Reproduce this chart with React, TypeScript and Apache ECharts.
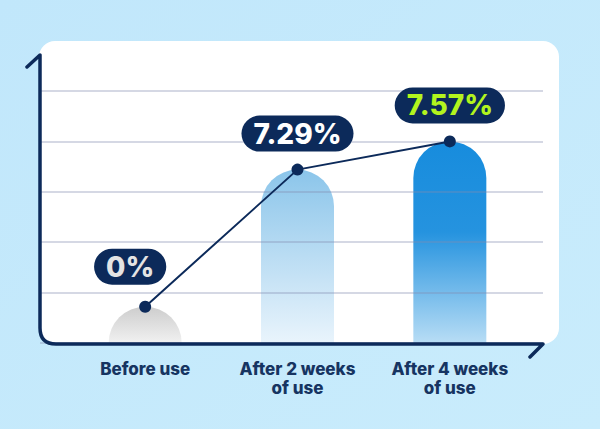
import React, { useEffect, useRef } from "react";
import * as echarts from "echarts";

const categories = ["Before use", "After 2 weeks\nof use", "After 4 weeks\nof use"];
// visual bar heights (grid units)
const barHeights = [0.72, 3.44, 4.0];
// percentages shown in the pills
const percentLabels = [0, 7.29, 7.57];
const gridTicks = [0, 1, 2, 3, 4, 5];

const NAVY = "#0c2a5a";
const FONT = "Inter, 'Noto Sans', sans-serif";

const barGradients = [
  ["#cdcdcd", "#f1f1f1"],
  ["#8bc5ea", "#e9f4fc"],
  ["#178cdd", "#b8ddf5"],
];
const labelColors = ["#e4e4e4", "#ffffff", "#b2f41e"];

export default function App() {
  const ref = useRef<HTMLDivElement>(null);
  useEffect(() => {
    if (!ref.current) return;
    echarts.graphic.registerShape(
      "axisL",
      echarts.graphic.extendPath(
        "M27,67 L40,55 L40,328 Q40,344 56,344 L543,344 L530,357",
        {}
      )
    );
    const chart = echarts.init(ref.current, null, { renderer: "svg" });
    const option: any = {
      animation: false,
      backgroundColor: {
        type: "linear",
        x: 0,
        y: 0,
        x2: 1,
        y2: 1,
        colorStops: [
          { offset: 0, color: "#c1e7fb" },
          { offset: 1, color: "#c9ecfc" },
        ],
      },
      graphic: [
        {
          type: "rect",
          z: -10,
          shape: { x: 39, y: 41, width: 520, height: 303, r: 16 },
          style: { fill: "#ffffff" },
        },
        {
          type: "axisL",
          z: 100,
          x: 0,
          y: 0,
          style: {
            fill: null,
            stroke: NAVY,
            lineWidth: 3.5,
            lineCap: "round",
            lineJoin: "round",
          },
        },
      ],
      grid: [
        { left: 40, right: 57, top: 91, bottom: 86 },
        { left: 69, right: 74, top: 91, bottom: 86 },
      ],
      xAxis: [
        { type: "value", gridIndex: 0, show: false, min: 0, max: 1 },
        {
          type: "category",
          gridIndex: 1,
          data: categories,
          axisLine: { show: false },
          axisTick: { show: false },
          axisLabel: {
            margin: 16,
            color: "#163461",
            fontFamily: FONT,
            fontWeight: 800,
            fontSize: 17,
            lineHeight: 19,
          },
        },
      ],
      yAxis: [
        {
          type: "value",
          gridIndex: 0,
          min: 0,
          max: 5,
          interval: 1,
          z: 5,
          axisLine: { show: false },
          axisTick: { show: false },
          axisLabel: { show: false },
          splitLine: {
            show: true,
            lineStyle: { color: "rgba(130,140,175,0.45)", width: 1.5 },
          },
          data: gridTicks,
        },
        {
          type: "value",
          gridIndex: 1,
          min: 0,
          max: 5,
          show: false,
          splitLine: { show: false },
        },
      ],
      series: [
        {
          type: "bar",
          xAxisIndex: 1,
          yAxisIndex: 1,
          barWidth: 73,
          z: 2,
          data: barHeights.map((v, i) => ({
            value: v,
            itemStyle: {
              borderRadius: [36.5, 36.5, 0, 0],
              color: {
                type: "linear",
                x: 0,
                y: 0,
                x2: 0,
                y2: 1,
                colorStops:
                  i === 2
                    ? [
                        { offset: 0, color: barGradients[i][0] },
                        { offset: 0.45, color: "#2593df" },
                        { offset: 1, color: barGradients[i][1] },
                      ]
                    : [
                        { offset: 0, color: barGradients[i][0] },
                        { offset: 1, color: barGradients[i][1] },
                      ],
              },
            },
          })),
        },
        {
          type: "line",
          xAxisIndex: 1,
          yAxisIndex: 1,
          z: 10,
          symbol: "circle",
          symbolSize: 12,
          lineStyle: { color: NAVY, width: 2 },
          itemStyle: { color: NAVY },
          data: barHeights.map((v, i) => ({
            value: v,
            label: {
              show: true,
              position: "top",
              distance: 12,
              offset: i === 0 ? [-15, -4] : [0, 0],
              formatter: () => `${percentLabels[i]}%`,
              color: labelColors[i],
              fontFamily: FONT,
              fontWeight: 800,
              fontSize: 28,
              lineHeight: 28,
              padding: [4, 12, 4, 12],
              backgroundColor: NAVY,
              borderRadius: 18,
            },
          })),
        },
      ],
    };
    chart.setOption(option);
    return () => chart.dispose();
  }, []);
  return (
    <div
      ref={ref}
      style={{ position: "fixed", left: 0, top: 0, width: 600, height: 429 }}
    />
  );
}
